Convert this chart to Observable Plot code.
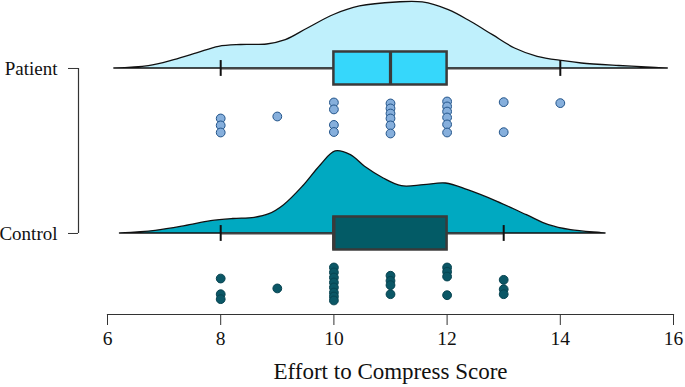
<!DOCTYPE html>
<html>
<head>
<meta charset="utf-8">
<script src="https://cdn.jsdelivr.net/npm/d3@7"></script>
<script src="https://cdn.jsdelivr.net/npm/@observablehq/plot@0.6"></script>
<style>
  html, body { margin: 0; padding: 0; background: #fff; }
</style>
</head>
<body>
<div id="chart"></div>
<script>
// ---- data ----
const groups = ["Control", "Patient"];          // y position 1, 2
const xTicks = [6, 8, 10, 12, 14, 16];
const xLabel = "Effort to Compress Score";

const patientScores = [8, 8, 8, 9, 10, 10, 10, 10, 11, 11, 11, 11, 11, 11, 12, 12, 12, 12, 12, 12, 13, 13, 14];
const patientJitter = [.303, .345, .388, .291, .206, .248, .342, .385, .212, .242, .273, .303, .345, .394, .2, .23, .261, .297, .339, .388, .204, .386, .21];

const controlScores = [8, 8, 8, 9, 10, 10, 10, 10, 10, 10, 10, 10, 11, 11, 11, 11, 12, 12, 12, 12, 13, 13, 13];
const controlJitter = [.273, .368, .398, .333, .206, .236, .267, .297, .327, .358, .382, .406, .256, .287, .313, .368, .206, .232, .261, .374, .281, .338, .368];

// density outlines (score, relative height)
const patientDensX = [6.12, 6.73, 7.18, 7.58, 7.97, 8.36, 8.82, 9.15, 9.54, 10.0, 10.46, 11.11, 11.57, 12.03, 12.42, 12.81, 13.2, 13.6, 14.06, 14.38, 15.04, 15.69, 15.9];
const patientDensH = [0, 2.3, 8.3, 15, 21.7, 23.5, 24, 28.3, 40, 53.5, 62, 66, 66, 58.3, 46.7, 33.3, 20, 11.7, 7.3, 5, 2.5, 0.6, 0];
const controlDensX = [6.22, 6.85, 7.37, 7.83, 8.22, 8.6, 8.86, 9.12, 9.45, 9.77, 10.03, 10.3, 10.55, 10.88, 11.2, 11.59, 11.98, 12.37, 12.89, 13.41, 13.8, 14.19, 14.71, 14.8];
const controlDensH = [0, 2.7, 7.3, 12.3, 14.5, 15.7, 19.3, 28.3, 46.7, 68.3, 82, 78.3, 66.7, 55, 47.3, 48.3, 50, 43.3, 31.7, 18.3, 8.3, 3.3, 0.5, 0];
const densUnit = 165; // relative height per y unit

const densityFill = ["#00a9c1", "#bff0fc"];
const boxFill = ["#035b66", "#36d7fb"];
const dotFill = ["#0b5766", "#86afdc"];
const dotStroke = ["#074350", "#22548a"];

// ---- derived ----
const series = [controlScores, patientScores];
const jitters = [controlJitter, patientJitter];
const densX = [controlDensX, patientDensX];
const densH = [controlDensH, patientDensH];

function boxStats(values, base) {
  const s = values.slice().sort(d3.ascending);
  const q1 = d3.quantile(s, 0.25), med = d3.quantile(s, 0.5), q3 = d3.quantile(s, 0.75);
  const iqr = q3 - q1;
  const lo = d3.min(s.filter(v => v >= q1 - 1.5 * iqr));
  const hi = d3.max(s.filter(v => v <= q3 + 1.5 * iqr));
  return {q1, med, q3, lo, hi, base};
}

const boxH = 0.1, tickH = 0.048;
const marks = [];
series.forEach((vals, g) => {
  const base = g + 1;
  const dens = densX[g].map((x, i) => ({x, y1: base, y2: base + densH[g][i] / densUnit}));
  const b = boxStats(vals, base);
  const pts = vals.map((v, i) => ({x: v, y: base - jitters[g][i]}));
  marks.push(
    Plot.areaY(dens, {x: "x", y1: "y1", y2: "y2", fill: densityFill[g], stroke: "#111", strokeWidth: 1.3, curve: "catmull-rom"}),
    Plot.ruleY([b], {x1: "lo", x2: "q1", y: "base", stroke: "#444", strokeWidth: 2.2}),
    Plot.ruleY([b], {x1: "q3", x2: "hi", y: "base", stroke: "#444", strokeWidth: 2.2}),
    Plot.ruleX([b.lo, b.hi], {y1: base - tickH, y2: base + tickH, stroke: "#111", strokeWidth: 2}),
    Plot.rect([b], {x1: "q1", x2: "q3", y1: d => d.base - boxH, y2: d => d.base + boxH, fill: boxFill[g], stroke: "#3a3a3a", strokeWidth: 2.5}),
    Plot.ruleX([b], {x: "med", y1: d => d.base - boxH, y2: d => d.base + boxH, stroke: "#3a3a3a", strokeWidth: 3.2}),
    Plot.dot(pts, {x: "x", y: "y", r: 4.4, fill: dotFill[g], stroke: dotStroke[g], strokeWidth: 1})
  );
});

const chart = Plot.plot({
  width: 685,
  height: 387,
  marginLeft: 107,
  marginRight: 12,
  marginTop: 0,
  marginBottom: 73,
  style: {fontFamily: "'Liberation Serif', 'Times New Roman', serif", fontSize: "19px", color: "#111", background: "#fff"},
  x: {domain: [xTicks[0], xTicks[xTicks.length - 1]]},
  y: {domain: [0.509, 2.412]},
  marks: [
    ...marks,
    Plot.frame({anchor: "bottom", stroke: "#333", strokeWidth: 1.2}),
    Plot.axisX({ticks: xTicks, tickSize: 11, tickPadding: 6, fontSize: 19.5, label: null, stroke: "#333"}),
    Plot.axisY({ticks: [1, 2], tickFormat: d => groups[d - 1], tickSize: 10, tickPadding: 11, dx: -29, fontSize: 19, label: null, stroke: "#333"}),
    Plot.ruleX([xTicks[0]], {y1: 1, y2: 2, dx: -29, stroke: "#333", strokeWidth: 1.2}),
    Plot.text([xLabel], {frameAnchor: "bottom", dy: 64, fontSize: 23})
  ]
});
document.getElementById("chart").appendChild(chart);
</script>
</body>
</html>
